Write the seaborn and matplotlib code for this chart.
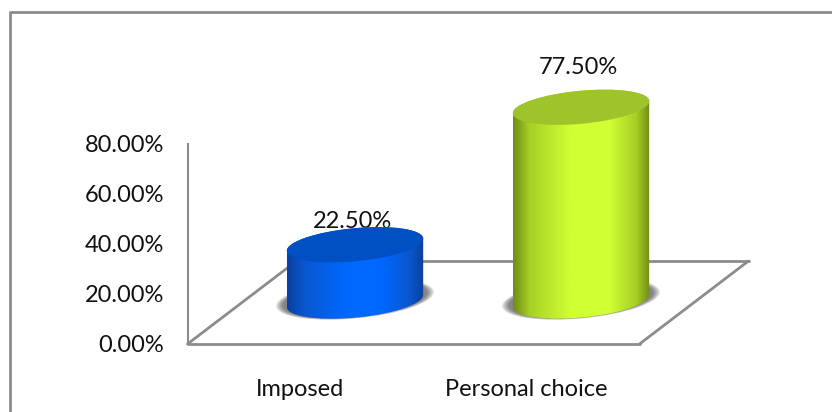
import numpy as np
import pandas as pd
import seaborn as sns
import matplotlib.pyplot as plt
from matplotlib.colors import LinearSegmentedColormap
from matplotlib.patches import Ellipse, PathPatch
from matplotlib.path import Path
from matplotlib.transforms import IdentityTransform

categories = ['Imposed', 'Personal choice']
values = [22.5, 77.5]
y_ticks = [0, 20, 40, 60, 80]

# colores: borde, centro, tapa
body_edge = ['#0b3f9e', '#6f8c17']
body_soft = ['#0a56cc', '#a6d026']
body_mid = ['#0068ff', '#d0ff33']
top_color = ['#0050c4', '#9fc32a']
label_offset = [(-3, 23), (-3, 40)]

W, H = 832, 412
GRAY = '#8c8c8c'

sns.set_style('white')
plt.rcParams['font.family'] = ['Lato', 'DejaVu Sans']

df = pd.DataFrame({'tipo': categories, 'pct': values})

fig = plt.figure(figsize=(W / 100, H / 100), dpi=100)


def pos(x0, y0, x1, y1):
    # pixeles de la imagen (origen arriba) a coordenadas de figura
    return [x0 / W, 1 - y1 / H, (x1 - x0) / W, (y1 - y0) / H]


# marco exterior (solo arriba e izquierda, sigue hasta el borde)
fig.add_artist(plt.Line2D([9.5 / W, 9.5 / W, 1], [0, 1 - 11.5 / H, 1 - 11.5 / H],
                          transform=fig.transFigure, color=GRAY, lw=2))

# ejes principales: pared y suelo
ax = fig.add_axes(pos(187.5, 144, 639.5, 344))
ax.set_xlim(-0.5, 1.5)
ax.set_ylim(0, 80)
ax.patch.set_alpha(0)
sns.despine(ax=ax, top=True, right=True, bottom=True)
ax.spines['left'].set_color(GRAY)
ax.spines['left'].set_linewidth(1.5)
ax.set_xticks(range(len(categories)), categories)
ax.set_yticks(y_ticks, [f'{t:.2f}%' for t in y_ticks])
ax.tick_params(axis='both', length=0, labelsize=17, labelcolor='#111111')
ax.tick_params(axis='x', pad=25)
ax.tick_params(axis='y', pad=17)

# suelo en perspectiva
dx = 109 / 452 * 2
dy = 83 / 200 * 80
floor = dict(color=GRAY, lw=2, clip_on=False)
ax.plot([-0.5, 1.5], [0, 0], **floor)
ax.plot([-0.5 + dx, 1.5 + dx], [dy, dy], **floor)
ax.plot([-0.5, -0.5 + dx], [0, dy], **floor)
ax.plot([1.5, 1.5 + dx], [0, dy], **floor)

# barras en medio del suelo
ax2 = fig.add_axes(pos(187.5 + 54.5, 144 - 43, 639.5 + 54.5, 344 - 43))
ax2.patch.set_alpha(0)
sns.barplot(data=df, x='tipo', y='pct', ax=ax2, width=0.606, color='white')
ax2.set_xlim(-0.5, 1.5)
ax2.set_ylim(0, 80)
ax2.axis('off')

TILT = 5.4
RY = 16.5
c, s = np.cos(np.radians(TILT)), np.sin(np.radians(TILT))
t = np.linspace(0, 2 * np.pi, 121)


def ring(cx, cy, rx, ry):
    return np.column_stack([cx + rx * np.cos(t) * c - ry * np.sin(t) * s,
                            cy + rx * np.cos(t) * s + ry * np.sin(t) * c])


for i, bar in enumerate(ax2.patches):
    bar.set_visible(False)
    xc = bar.get_x() + bar.get_width() / 2
    px0 = ax2.transData.transform((xc, 0))
    px1 = ax2.transData.transform((xc, bar.get_height()))
    rx = (ax2.transData.transform((bar.get_x() + bar.get_width(), 0))[0]
          - ax2.transData.transform((bar.get_x(), 0))[0]) / 2

    # sombra difusa
    for k in np.linspace(1, 0.35, 9):
        ax2.add_patch(Ellipse((px0[0], px0[1] + 2), 2 * (rx + 11 * k), 2 * (RY + 1 + 2 * k), angle=TILT,
                              transform=IdentityTransform(), fc='#303030', ec='none', alpha=0.09,
                              zorder=3, clip_on=False))

    # cuerpo con degradado, recortado a la silueta del cilindro
    low = ring(px0[0], px0[1], rx, RY)[60:121]
    high = ring(px1[0], px1[1], rx, RY)[0:61]
    outline = np.vstack([low, high, low[:1]])
    clip = PathPatch(Path(outline), transform=IdentityTransform(), fc='none', ec='none', clip_on=False)
    ax2.add_patch(clip)
    cmap = LinearSegmentedColormap.from_list(
        'cil', [(0, body_edge[i]), (0.12, body_soft[i]), (0.42, body_mid[i]),
                (0.7, body_mid[i]), (0.9, body_soft[i]), (1, body_edge[i])])
    im = ax2.imshow(np.linspace(0, 1, 256)[None, :], cmap=cmap, aspect='auto', zorder=4,
                    extent=(bar.get_x(), bar.get_x() + bar.get_width(), -12, bar.get_height() + 12))
    im.set_clip_path(clip)
    im.set_clip_box(fig.bbox)

    # tapa
    ax2.add_patch(Ellipse(px1, 2 * rx, 2 * RY, angle=TILT, transform=IdentityTransform(),
                          fc=top_color[i], ec='none', zorder=5, clip_on=False))

    ax2.annotate(f'{values[i]:.2f}%', (xc, bar.get_height()), xytext=label_offset[i],
                 textcoords='offset pixels', ha='center', va='center', fontsize=17,
                 color='#111111', zorder=2, annotation_clip=False)

ax2.set_xlim(-0.5, 1.5)
ax2.set_ylim(0, 80)

fig.savefig('out.png', dpi=100)
